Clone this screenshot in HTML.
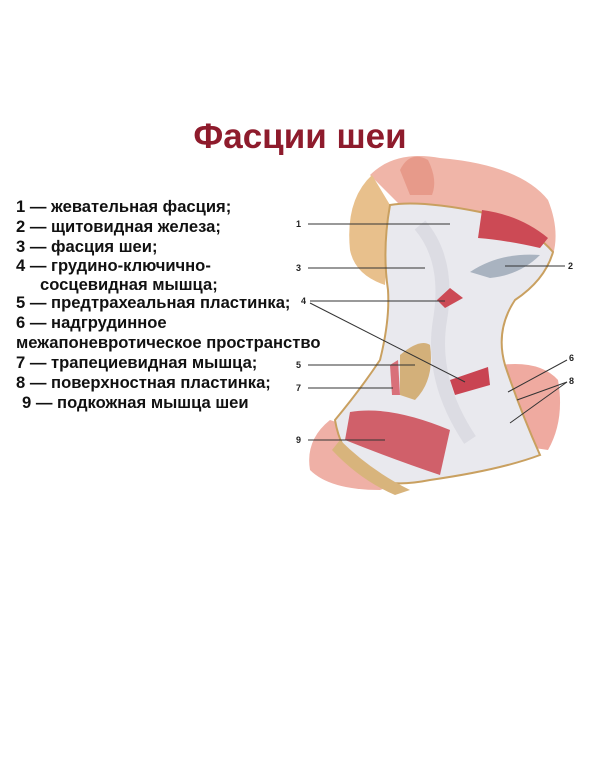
<!DOCTYPE html>
<html><head><meta charset="utf-8"><style>
html,body{margin:0;padding:0;background:#fff;}
body{width:600px;height:758px;position:relative;overflow:hidden;font-family:"Liberation Sans",sans-serif;}
.t{position:absolute;left:0;width:600px;top:117px;text-align:center;font-weight:bold;font-size:35px;color:#8e1b2c;}
.l{position:absolute;left:16px;font-weight:bold;font-size:16.6px;color:#111;white-space:nowrap;line-height:20px;}
svg{position:absolute;left:0;top:0;}
</style></head><body>
<div class="t">Фасции шеи</div>
<div class="l" style="top:197px">1 — жевательная фасция;</div>
<div class="l" style="top:217px">2 — щитовидная железа;</div>
<div class="l" style="top:237px">3 — фасция шеи;</div>
<div class="l" style="top:256px">4 — грудино-ключично-</div>
<div class="l" style="top:275px;left:40px">сосцевидная мышца;</div>
<div class="l" style="top:293px">5 — предтрахеальная пластинка;</div>
<div class="l" style="top:313px">6 — надгрудинное</div>
<div class="l" style="top:333px">межапоневротическое пространство</div>
<div class="l" style="top:353px">7 — трапециевидная мышца;</div>
<div class="l" style="top:373px">8 — поверхностная пластинка;</div>
<div class="l" style="top:393px;left:22px">9 — подкожная мышца шеи</div>
<svg width="600" height="758" viewBox="0 0 600 758">
<path d="M370 175 Q395 150 440 158 Q520 165 548 200 Q560 230 553 255 L500 250 L400 205 Z" fill="#f0b5a8"/>
<path d="M400 170 Q410 150 428 160 Q438 180 432 195 L410 195 Z" fill="#e79a8a"/>
<path d="M372 175 Q345 200 350 250 Q355 275 385 285 L390 205 Z" fill="#e8c08c"/>
<path d="M500 365 Q540 360 558 380 Q565 420 548 450 L515 445 Z" fill="#efaaa0"/>
<path d="M330 420 Q305 440 310 470 Q330 490 380 490 L410 480 L360 430 Z" fill="#efb0a6"/>
<path d="M390 205 Q420 200 480 212 Q530 225 553 252 Q545 280 515 300 Q495 330 505 365 Q520 410 540 455 Q500 470 430 480 Q380 490 360 470 Q340 450 335 420 Q360 390 380 360 Q390 320 388 290 Q382 250 390 205 Z" fill="#e9e9ee" stroke="#c9a060" stroke-width="2"/>
<path d="M420 225 Q450 260 440 320 Q430 380 470 440" stroke="#d3d3dc" stroke-width="14" fill="none" opacity="0.6"/>
<path d="M482 210 Q520 215 548 238 L540 248 Q505 240 478 238 Z" fill="#cc4a55"/>
<path d="M470 272 Q500 252 540 255 Q520 275 490 278 Z" fill="#a9b3c0"/>
<path d="M437 300 L450 288 L463 298 L445 308 Z" fill="#cc4a55"/>
<path d="M450 380 L488 367 L490 385 L455 395 Z" fill="#c94452"/>
<path d="M400 355 Q420 338 430 345 Q435 380 415 400 L400 395 Z" fill="#d3b07a"/>
<path d="M390 365 L398 360 L400 395 L392 395 Z" fill="#d9707a"/>
<path d="M350 412 Q390 405 450 430 L440 475 Q395 460 345 440 Z" fill="#d0606a"/>
<path d="M340 440 Q370 470 410 490 L395 495 Q360 480 332 450 Z" fill="#d8b47c"/>
<g stroke="#333" stroke-width="1" fill="none">
<line x1="308" y1="224" x2="450" y2="224"/>
<line x1="308" y1="268" x2="425" y2="268"/>
<line x1="505" y1="266" x2="565" y2="266"/>
<line x1="310" y1="301" x2="445" y2="301"/>
<line x1="310" y1="303" x2="465" y2="382"/>
<line x1="308" y1="365" x2="415" y2="365"/>
<line x1="308" y1="388" x2="393" y2="388"/>
<line x1="308" y1="440" x2="385" y2="440"/>
<line x1="567" y1="360" x2="508" y2="392"/>
<line x1="567" y1="382" x2="517" y2="400"/>
<line x1="567" y1="382" x2="510" y2="423"/>
</g>
<g font-family="Liberation Sans,sans-serif" font-weight="bold" font-size="9" fill="#222">
<text x="296" y="227">1</text><text x="296" y="271">3</text><text x="568" y="269">2</text>
<text x="301" y="304">4</text><text x="296" y="368">5</text><text x="296" y="391">7</text>
<text x="296" y="443">9</text><text x="569" y="361">6</text><text x="569" y="384">8</text>
</g>
</svg>
</body></html>
